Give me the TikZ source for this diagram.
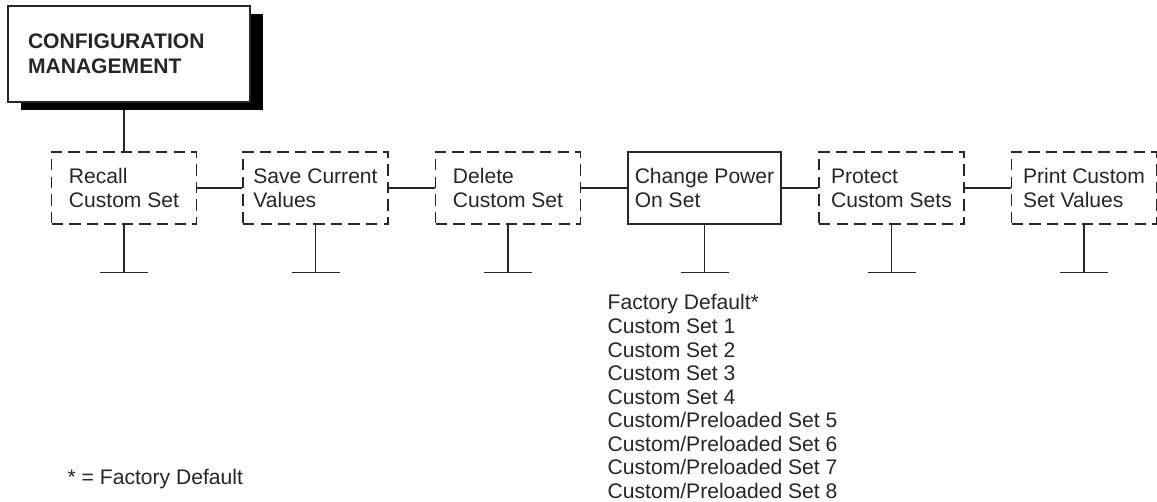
\documentclass[tikz,border=0pt]{standalone}
\usepackage{fontspec}
\setmainfont{Liberation Sans}
\usetikzlibrary{shadows}
\begin{document}
\begin{tikzpicture}[x=0.02cm, y=-0.02cm, line width=0.8pt, font=\fontsize{12}{13.7}\selectfont, color=black!85]
      \tikzset{menu/.style={draw, dash pattern=on 6.5pt off 3.5pt, minimum width=2.9cm, minimum height=1.44cm, align=left, inner sep=0pt},
               fixed/.style={menu, solid, minimum width=3.06cm},
               title/.style={draw, solid, fill=white, text width=4.04cm, inner xsep=0.4cm, minimum height=1.92cm, align=left, font=\fontsize{12}{14.2}\selectfont\bfseries,
                 drop shadow={shadow xshift=0.26cm, shadow yshift=-0.16cm, fill=black, opacity=1}}}
      \useasboundingbox (0,0) rectangle (1157,501);
      \node[menu] (recall) at (124,188) {Recall\\Custom Set};
      \node[menu] (save) at (315.5,188) {Save Current\\Values};
      \node[menu] (delete) at (508,188) {Delete\\Custom Set};
      \node[fixed] (change) at (704.5,188) {Change Power\\On Set};
      \node[menu] (protect) at (891.5,188) {Protect\\Custom Sets};
      \node[menu] (print) at (1084,188) {Print Custom\\Set Values};
      \draw (recall.north) -- ++(0,-50) coordinate (top);
      \node[title] (config) at (129,54) {CONFIGURATION\\MANAGEMENT};
      \draw (recall) -- (save);
      \draw (save) -- (delete);
      \draw (delete) -- (change);
      \draw (change) -- (protect);
      \draw (protect) -- (print);
      \foreach \n in {recall,save,delete,change,protect,print}
        \draw (\n.south) -- ++(0,48) coordinate (\n-end) ++(-24,0) -- ++(48,0);
      \node[anchor=north west, align=left, inner sep=0pt, font=\fontsize{12}{13.4}\selectfont] (sets) at (607,294)
        {Factory Default*\\Custom Set 1\\Custom Set 2\\Custom Set 3\\Custom Set 4\\Custom/Preloaded Set 5\\Custom/Preloaded Set 6\\Custom/Preloaded Set 7\\Custom/Preloaded Set 8};
      \node[anchor=base west, inner sep=0pt] (note) at (67,484) {* = Factory Default};
    \end{tikzpicture}
\end{document}
